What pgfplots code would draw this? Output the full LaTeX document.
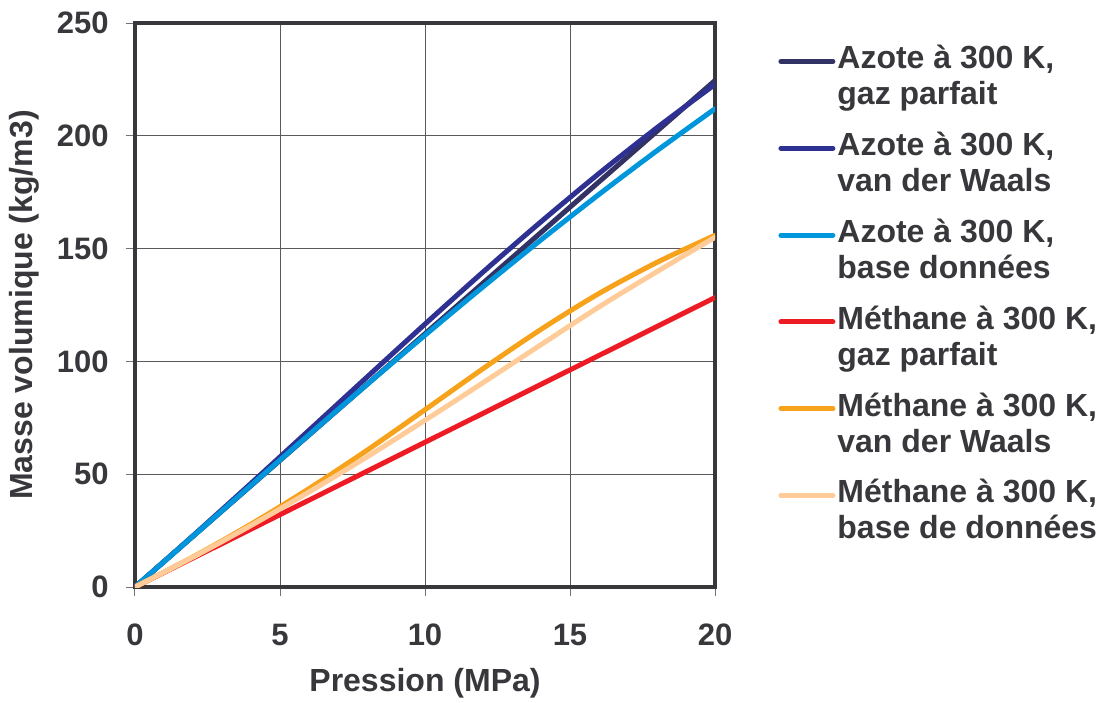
\documentclass[border=0pt]{standalone}
\usepackage{fontspec}
\setmainfont{Liberation Sans}
\usepackage{pgfplots}
\pgfplotsset{compat=1.18}
\definecolor{txt}{RGB}{55,55,60}
\definecolor{ngp}{RGB}{50,50,100}
\definecolor{nvdw}{RGB}{46,49,146}
\definecolor{nbd}{RGB}{0,150,219}
\definecolor{mgp}{RGB}{237,28,36}
\definecolor{mvdw}{RGB}{247,162,27}
\definecolor{mbd}{RGB}{255,204,153}
\newcommand{\ent}[2]{\begin{tabular}[t]{@{}l@{}}#1\\#2\end{tabular}}
\begin{document}
\begin{tikzpicture}
\begin{axis}[
  scale only axis, width=290pt, height=282pt,
  xmin=0, xmax=20, ymin=0, ymax=250,
  xtick={0,5,10,15,20}, ytick={0,50,100,150,200,250},
  grid=major, major grid style={line width=0.5pt, color=black!65},
  axis line style={line width=1.6pt, color=txt},
  tick style={line width=0.5pt, color=black!55},
  tick align=outside, major tick length=4.5pt, tick pos=left,
  font=\fontsize{16}{18}\selectfont\bfseries,
  /pgf/number format/assume math mode=true,
  ticklabel style={text=txt, inner sep=0pt, font=\fontsize{15.5}{18}\selectfont\bfseries},
  xticklabel style={anchor=base, yshift=-24.5pt},
  yticklabel style={anchor=east, xshift=-8.5pt},
  xlabel={Pression (MPa)},
  ylabel={Masse volumique (kg/m3)},
  xlabel style={at={(axis description cs:0.5,-0.1844)}, anchor=base, text=txt, inner sep=0pt},
  ylabel style={at={(axis description cs:-0.1759,0.5)}, anchor=base, text=txt, inner sep=0pt},
  legend style={draw=none, fill=none, inner sep=0pt, at={(axis description cs:1,1)}, anchor=north west,
    xshift=31.5pt, yshift=-8.15pt, row sep=25.3pt, column sep=-1pt,
    cells={anchor=base west, inner sep=0pt}, font=\fontsize{16}{18}\selectfont\bfseries, text=txt},
  legend image code/.code={\draw[#1] (0pt,0.37em) -- (26pt,0.37em);},
  every axis plot/.append style={line width=2.5pt, line cap=round, line join=round},
]
\addplot[ngp] coordinates {(0,0) (4,44.9) (8,89.8) (12,134.7) (16,179.6) (20,224.5)};
\addlegendentry{\ent{Azote à 300 K,}{gaz parfait}}
\addplot[nvdw, smooth] coordinates {(0,0) (2,22.73) (4,45.93) (6,69.44) (8,93.06) (10,116.54) (12,139.6) (14,161.9) (16,183.3) (18,203.6) (20,222.8)};
\addlegendentry{\ent{Azote à 300 K,}{van der Waals}}
\addplot[nbd, smooth] coordinates {(0,0) (2,22.51) (4,45.06) (6,67.51) (8,89.73) (10,111.61) (12,133.03) (14,153.87) (16,174.03) (18,193.42) (20,211.97)};
\addlegendentry{\ent{Azote à 300 K,}{base données}}
\addplot[mgp] coordinates {(0,0) (4,25.66) (8,51.32) (12,76.98) (16,102.64) (20,128.3)};
\addlegendentry{\ent{Méthane à 300 K,}{gaz parfait}}
\addplot[mvdw, smooth] coordinates {(0,0) (2,13.36) (4,27.86) (6,43.6) (8,60.6) (10,78.57) (12,96.77) (14,114.2) (16,130.1) (18,143.9) (20,155.9)};
\addlegendentry{\ent{Méthane à 300 K,}{van der Waals}}
\addplot[mbd, smooth] coordinates {(0,0) (2,13.23) (4,27.26) (6,42.09) (8,57.67) (10,73.9) (12,90.56) (14,107.41) (16,124.14) (18,139.8) (20,155.0)};
\addlegendentry{\ent{Méthane à 300 K,}{base de données}}
\end{axis}
\pgfresetboundingbox
\path (-67.5pt,-57.5pt) rectangle (483.5pt,293.5pt);
\end{tikzpicture}
\end{document}
